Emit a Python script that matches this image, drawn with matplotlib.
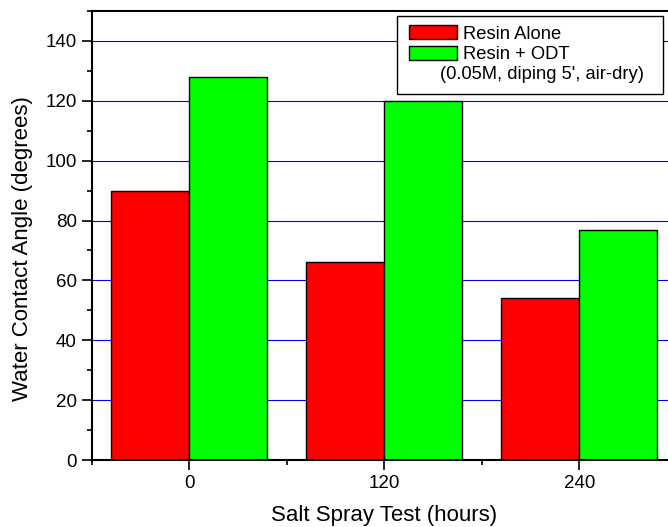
import matplotlib.pyplot as plt
from matplotlib.patches import Rectangle
from matplotlib.ticker import MultipleLocator
import numpy as np

plt.rcParams['font.family'] = ['Liberation Sans', 'DejaVu Sans']

hours = [0, 120, 240]
resin_alone = [90, 66, 54]
resin_odt = [128, 120, 77]
series_labels = ['Resin Alone', 'Resin + ODT']
note = "(0.05M, diping 5', air-dry)"

fig = plt.figure(figsize=(6.68, 5.27), dpi=100)
ax = fig.add_axes([0.1377, 0.1271, 0.8757, 0.852])

x = np.array(hours)
width = 48
ax.bar(x - width / 2, resin_alone, width, color='#ff0000', edgecolor='black',
       linewidth=1, label=series_labels[0], zorder=2)
ax.bar(x + width / 2, resin_odt, width, color='#00ff00', edgecolor='black',
       linewidth=1, label=series_labels[1], zorder=2)

ax.set_xlim(-60, 300)
ax.set_ylim(0, 150)
ax.set_xticks(hours)
ax.xaxis.set_minor_locator(MultipleLocator(60))
ax.yaxis.set_major_locator(MultipleLocator(20))
ax.yaxis.set_minor_locator(MultipleLocator(10))
ax.tick_params(which='major', direction='out', length=7, width=1.2, labelsize=13.5, pad=4)
ax.tick_params(which='minor', direction='out', length=3.5, width=1.2)

# horizontal blue grid behind the bars
ax.yaxis.grid(True, color='#0000ff', linewidth=0.8, zorder=0)
ax.set_axisbelow(True)

for s in ax.spines.values():
    s.set_linewidth(1.5)

ax.set_xlabel('Salt Spray Test (hours)', fontsize=16, labelpad=9)
ax.set_ylabel('Water Contact Angle (degrees)', fontsize=16)
ax.yaxis.set_label_coords(-0.101, 0.471)

# legend box with an extra note line
frame = Rectangle((0.5214, 0.815), 0.4547, 0.174, transform=ax.transAxes,
                  facecolor='white', edgecolor='black', linewidth=1, zorder=3)
ax.add_patch(frame)
leg = ax.legend(loc='upper left', bbox_to_anchor=(0.5419, 0.968), frameon=False,
                fontsize=13.2, handlelength=2.6, handleheight=0.8,
                handletextpad=0.35, labelspacing=0.15, borderpad=0,
                borderaxespad=0)
leg.set_zorder(4)
ax.text(0.595, 0.858, note, transform=ax.transAxes, fontsize=13.2,
        va='center', zorder=4)

fig.savefig('out.png', dpi=100)
